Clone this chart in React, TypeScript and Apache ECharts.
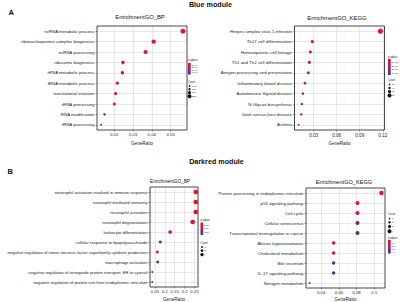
import React, { useEffect, useRef } from "react";
import * as echarts from "echarts";

const FONT = "'Liberation Sans', Arial, Helvetica, sans-serif";
const RED = "#e8112d";
const MID = "#b5186b";
const BLUE = "#2e3d96";

// ---------- Blue module : EnrichmentGO_BP ----------
const blueBpTerms = [
  "ncRNA metabolic process",
  "ribonucleoprotein complex biogenesis",
  "ncRNA processing",
  "ribosome biogenesis",
  "rRNA metabolic process",
  "tRNA metabolic process",
  "translational initiation",
  "rRNA processing",
  "RNA modification",
  "tRNA processing",
];
const blueBpRatio = [0.0565, 0.041, 0.0367, 0.0247, 0.0244, 0.0217, 0.0208, 0.0201, 0.0149, 0.0131];
const blueBpPadj = [1e-5, 3e-5, 3e-5, 5e-5, 6e-5, 9e-5, 1.1e-4, 8e-5, 3.2e-4, 4.5e-4];
const blueBpPadjMax = 5e-4;
const blueBpTicks = [0.02, 0.03, 0.04, 0.05];
const blueBpTickLabels = ["0.02", "0.03", "0.04", "0.05"];
const blueBpMinor = [0.015, 0.025, 0.035, 0.045, 0.055];
const blueBpPadjLabelValues = [1e-4, 2e-4, 3e-4, 4e-4];
const blueBpPadjLabels = ["1e-04", "2e-04", "3e-04", "4e-04"];
const blueBpCountLabels = ["100", "150", "200", "250"];

// ---------- Blue module : EnrichmentGO_KEGG ----------
const blueKeggTerms = [
  "Herpes simplex virus 1 infection",
  "Th17 cell differentiation",
  "Hematopoietic cell lineage",
  "Th1 and Th2 cell differentiation",
  "Antigen processing and presentation",
  "Inflammatory bowel disease",
  "Autoimmune thyroid disease",
  "N-Glycan biosynthesis",
  "Graft-versus-host disease",
  "Asthma",
];
const blueKeggRatio = [0.1169, 0.0283, 0.0257, 0.0244, 0.0231, 0.0186, 0.016, 0.0147, 0.0139, 0.0104];
const blueKeggPadj = [1.4e-4, 6.8e-4, 6.8e-4, 9e-4, 1e-3, 1.35e-3, 1.7e-3, 2.7e-3, 1.9e-3, 4.1e-3];
const blueKeggPadjMax = 4.5e-3;
const blueKeggTicks = [0.03, 0.06, 0.09, 0.12];
const blueKeggTickLabels = ["0.03", "0.06", "0.09", "0.12"];
const blueKeggMinor = [0.015, 0.045, 0.075, 0.105];
const blueKeggPadjLabelValues = [1e-3, 2e-3, 3e-3, 4e-3];
const blueKeggPadjLabels = ["1e-03", "2e-03", "3e-03", "4e-03"];
const blueKeggCountLabels = ["20", "40", "60", "80"];

// ---------- Darkred module : EnrichmentGO_BP ----------
const redBpTerms = [
  "neutrophil activation involved in immune response",
  "neutrophil mediated immunity",
  "neutrophil activation",
  "neutrophil degranulation",
  "leukocyte differentiation",
  "cellular response to lipopolysaccharide",
  "negative regulation of tumor necrosis factor superfamily cytokine production",
  "macrophage activation",
  "negative regulation of retrograde protein transport, ER to cytosol",
  "negative regulation of protein exit from endoplasmic reticulum",
];
const redBpRatio = [0.257, 0.257, 0.257, 0.241, 0.127, 0.077, 0.062, 0.064, 0.036, 0.036];
const redBpPadj = [0.004, 0.006, 0.006, 0.01, 0.1, 0.184, 0.076, 0.18, 0.19, 0.19];
const redBpPadjMax = 0.2;
const redBpTicks = [0.05, 0.1, 0.15, 0.2, 0.25];
const redBpTickLabels = ["0.05", "0.1", "0.15", "0.2", "0.25"];
const redBpMinor = [0.025, 0.075, 0.125, 0.175, 0.225];
const redBpPadjLabelValues = [0.05, 0.1, 0.15];
const redBpPadjLabels = ["0.05", "0.10", "0.15"];
const redBpCountLabels = ["3", "5", "7"];

// ---------- Darkred module : EnrichmentGO_KEGG ----------
const redKeggTerms = [
  "Protein processing in endoplasmic reticulum",
  "p53 signaling pathway",
  "Cell cycle",
  "Cellular senescence",
  "Transcriptional misregulation in cancer",
  "African trypanosomiasis",
  "Cholesterol metabolism",
  "Bile secretion",
  "IL-17 signaling pathway",
  "Nitrogen metabolism",
];
const redKeggRatio = [0.1081, 0.0811, 0.0811, 0.0811, 0.0811, 0.0541, 0.0541, 0.0541, 0.0541, 0.027];
const redKeggPadj = [0.009, 0.036, 0.135, 0.396, 0.396, 0.045, 0.09, 0.396, 0.396, 0.441];
const redKeggPadjMax = 0.45;
const redKeggTicks = [0.04, 0.06, 0.08, 0.1];
const redKeggTickLabels = ["0.04", "0.06", "0.08", "0.1"];
const redKeggMinor = [0.03, 0.05, 0.07, 0.09, 0.11];
const redKeggPadjLabelValues = [0.1, 0.2, 0.3, 0.4];
const redKeggPadjLabels = ["0.1", "0.2", "0.3", "0.4"];
const redKeggCountLabels = ["1", "2", "3", "4"];

type Panel = {
  terms: string[];
  ratio: number[];
  padj: number[];
  padjMax: number;
  ticks: number[];
  tickLabels: string[];
  minor: number[];
  padjLabelValues: number[];
  padjLabels: string[];
  countLabels: string[];
  grid: { left: number; top: number; width: number; height: number };
  sizeRange: [number, number];
  labelFont: number;
  tickFont: number;
  nameGap: number;
  title: { text: string; x: number; y: number; size: number };
  legend: {
    x: number;
    padjY: number;
    barY: number;
    barH: number;
    countY: number;
    dotY: number[];
    dotD: number[];
  };
};

const panels: Panel[] = [
  {
    terms: blueBpTerms, ratio: blueBpRatio, padj: blueBpPadj, padjMax: blueBpPadjMax,
    ticks: blueBpTicks, tickLabels: blueBpTickLabels, minor: blueBpMinor,
    padjLabelValues: blueBpPadjLabelValues, padjLabels: blueBpPadjLabels, countLabels: blueBpCountLabels,
    grid: { left: 97, top: 26, width: 90, height: 104 },
    sizeRange: [1.8, 5], labelFont: 4.4, tickFont: 4.3, nameGap: 10.5,
    title: { text: "EnrichmentGO_BP", x: 140, y: 16.5, size: 5.8 },
    legend: { x: 188, padjY: 61, barY: 63, barH: 11.5, countY: 83, dotY: [86, 89.3, 92.7, 96.2], dotD: [1.6, 2.4, 3.2, 4] },
  },
  {
    terms: blueKeggTerms, ratio: blueKeggRatio, padj: blueKeggPadj, padjMax: blueKeggPadjMax,
    ticks: blueKeggTicks, tickLabels: blueKeggTickLabels, minor: blueKeggMinor,
    padjLabelValues: blueKeggPadjLabelValues, padjLabels: blueKeggPadjLabels, countLabels: blueKeggCountLabels,
    grid: { left: 294.5, top: 26, width: 90, height: 104 },
    sizeRange: [1.8, 5.2], labelFont: 4.4, tickFont: 4.6, nameGap: 10.5,
    title: { text: "EnrichmentGO_KEGG", x: 337, y: 17.5, size: 5.9 },
    legend: { x: 388, padjY: 57.3, barY: 59, barH: 16, countY: 81, dotY: [84.5, 88, 91.6, 95.5], dotD: [1.6, 2.4, 3.2, 4] },
  },
  {
    terms: redBpTerms, ratio: redBpRatio, padj: redBpPadj, padjMax: redBpPadjMax,
    ticks: redBpTicks, tickLabels: redBpTickLabels, minor: redBpMinor,
    padjLabelValues: redBpPadjLabelValues, padjLabels: redBpPadjLabels, countLabels: redBpCountLabels,
    grid: { left: 150, top: 187, width: 48, height: 100 },
    sizeRange: [1.9, 4.7], labelFont: 4.2, tickFont: 4.2, nameGap: 9.7,
    title: { text: "EnrichmentGO_BP", x: 170, y: 181.5, size: 4.7 },
    legend: { x: 200.5, padjY: 221, barY: 222.5, barH: 12.5, countY: 243.3, dotY: [247, 250.6, 254.6], dotD: [1.8, 2.6, 3.4] },
  },
  {
    terms: redKeggTerms, ratio: redKeggRatio, padj: redKeggPadj, padjMax: redKeggPadjMax,
    ticks: redKeggTicks, tickLabels: redKeggTickLabels, minor: redKeggMinor,
    padjLabelValues: redKeggPadjLabelValues, padjLabels: redKeggPadjLabels, countLabels: redKeggCountLabels,
    grid: { left: 306, top: 188, width: 79, height: 100 },
    sizeRange: [1.9, 4.4], labelFont: 4.35, tickFont: 4.3, nameGap: 8.9,
    title: { text: "EnrichmentGO_KEGG", x: 344, y: 181.5, size: 5.6 },
    legend: { x: 388, padjY: 238.3, barY: 240, barH: 13.5, countY: 215, dotY: [218.6, 222.4, 226.6, 231.3], dotD: [1.6, 2.4, 3.2, 4] },
  },
];

function buildOption() {
  const grid: any[] = [];
  const xAxis: any[] = [];
  const yAxis: any[] = [];
  const series: any[] = [];
  const visualMap: any[] = [];
  const graphic: any[] = [];

  const txt = (text: string, x: number, y: number, size: number, opts: any = {}) => ({
    type: "text",
    silent: true,
    style: {
      text,
      x,
      y,
      fill: opts.fill || "#1a1a1a",
      font: `${opts.weight || "normal"} ${size}px ${FONT}`,
      textAlign: opts.align || "left",
      align: opts.align || "left",
      textVerticalAlign: "middle",
      verticalAlign: "middle",
    },
  });

  panels.forEach((p, i) => {
    const lo = Math.min(...p.ratio);
    const hi = Math.max(...p.ratio);
    const pad = (hi - lo) * 0.05;
    grid.push({
      ...p.grid,
      show: true,
      borderColor: "#333333",
      borderWidth: 0.9,
      backgroundColor: "transparent",
      containLabel: false,
      outerBoundsMode: "none",
      z: 4,
    });
    xAxis.push({
      gridIndex: i,
      type: "value",
      min: lo - pad,
      max: hi + pad,
      axisLine: { show: false },
      splitLine: { show: false },
      axisTick: { show: true, length: 1.5, lineStyle: { color: "#333", width: 0.5 }, customValues: p.ticks },
      axisLabel: {
        customValues: p.ticks,
        formatter: (v: number) => {
          const k = p.ticks.findIndex((t) => Math.abs(t - v) < 1e-9);
          return k >= 0 ? p.tickLabels[k] : "";
        },
        fontSize: p.tickFont,
        color: "#222",
        margin: 2.8,
        fontFamily: FONT,
      },
      name: "GeneRatio",
      nameLocation: "middle",
      nameGap: p.nameGap,
      nameTextStyle: { fontSize: 4.6, color: "#1a1a1a", fontFamily: FONT },
    });
    yAxis.push({
      gridIndex: i,
      type: "category",
      data: p.terms,
      inverse: true,
      axisLine: { show: false },
      splitLine: { show: false },
      axisTick: { show: true, alignWithLabel: true, length: 1.5, lineStyle: { color: "#333", width: 0.5 } },
      axisLabel: { interval: 0, fontSize: p.labelFont, color: "#1a1a1a", margin: 2.5, fontFamily: FONT },
    });
    const major = { color: "#dcdcdc", width: 0.7, type: "solid" };
    const minorS = { color: "#ececec", width: 0.4, type: "solid" };
    series.push({
      type: "line",
      xAxisIndex: i,
      yAxisIndex: i,
      data: [],
      silent: true,
      markLine: {
        silent: true,
        z: 1,
        symbol: ["none", "none"],
        label: { show: false },
        emphasis: { disabled: true },
        animation: false,
        data: [
          ...p.minor.map((v) => ({ xAxis: v, lineStyle: minorS })),
          ...p.ticks.map((v) => ({ xAxis: v, lineStyle: major })),
          ...p.terms.map((t) => ({ yAxis: t, lineStyle: major })),
        ],
      },
    });
    const [dMin, dMax] = p.sizeRange;
    series.push({
      type: "scatter",
      xAxisIndex: i,
      yAxisIndex: i,
      z: 6,
      data: p.terms.map((t, j) => [p.ratio[j], t, p.padj[j]]),
      symbolSize: (val: any[]) => dMin + (dMax - dMin) * Math.sqrt((val[0] - lo) / (hi - lo)),
      itemStyle: { opacity: 1 },
    });
    visualMap.push({
      type: "continuous",
      show: false,
      seriesIndex: 2 * i + 1,
      dimension: 2,
      min: 0,
      max: p.padjMax,
      inRange: { color: [RED, MID, BLUE] },
    });

    graphic.push(txt(p.title.text, p.title.x, p.title.y, p.title.size, { align: "center", fill: "#111" }));

    const L = p.legend;
    graphic.push(txt("p.adjust", L.x, L.padjY, 2.7));
    graphic.push({
      type: "rect",
      silent: true,
      shape: { x: L.x, y: L.barY, width: 2.7, height: L.barH },
      style: {
        fill: new echarts.graphic.LinearGradient(0, 0, 0, 1, [
          { offset: 0, color: RED },
          { offset: 0.5, color: MID },
          { offset: 1, color: BLUE },
        ]),
      },
    });
    p.padjLabelValues.forEach((v, k) => {
      graphic.push(txt(p.padjLabels[k], L.x + 3.5, L.barY + (v / p.padjMax) * L.barH, 2.4));
    });
    graphic.push(txt("Count", L.x, L.countY, 2.7));
    L.dotY.forEach((y, k) => {
      graphic.push({
        type: "circle",
        silent: true,
        shape: { cx: L.x + 1.5, cy: y, r: L.dotD[k] / 2 },
        style: { fill: "#111" },
      });
      graphic.push(txt(p.countLabels[k], L.x + 4, y, 2.4));
    });
  });

  graphic.push(txt("A", 8.5, 12, 7.5, { weight: "bold", fill: "#111" }));
  graphic.push(txt("Blue module", 210.5, 4.8, 7.2, { weight: "bold", align: "center", fill: "#111" }));
  graphic.push(txt("B", 7.5, 171, 7.5, { weight: "bold", fill: "#111" }));
  graphic.push(txt("Darkred module", 216.5, 161, 7.2, { weight: "bold", align: "center", fill: "#111" }));

  return {
    animation: false,
    backgroundColor: "#ffffff",
    textStyle: { fontFamily: FONT },
    grid,
    xAxis,
    yAxis,
    series,
    visualMap,
    graphic,
  };
}

export default function App() {
  const ref = useRef<HTMLDivElement>(null);
  useEffect(() => {
    if (!ref.current) return;
    const chart = echarts.init(ref.current, null, { renderer: "svg" });
    chart.setOption(buildOption() as any);
    return () => chart.dispose();
  }, []);
  return (
    <div
      ref={ref}
      style={{ position: "absolute", left: 0, top: 0, width: 400, height: 302, background: "#fff" }}
    />
  );
}
